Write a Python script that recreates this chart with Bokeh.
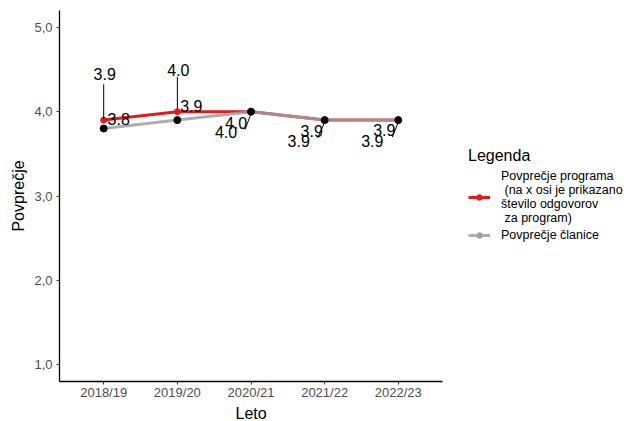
from bokeh.plotting import figure
from bokeh.models import Range1d, FixedTicker, Legend, LegendItem, Title
from bokeh.core.properties import value
from bokeh.embed import file_html
from bokeh.resources import INLINE

# ---- data ----
years = ["2018/19", "2019/20", "2020/21", "2021/22", "2022/23"]
program = [3.9, 4.0, 4.0, 3.9, 3.9]
members = [3.8, 3.9, 4.0, 3.9, 3.9]
y_ticks = [1, 2, 3, 4, 5]
y_tick_labels = ["1,0", "2,0", "3,0", "4,0", "5,0"]
label_program = "Povprečje programa\n (na x osi je prikazano\nštevilo odgovorov\n za program)"
label_members = "Povprečje članice"
legend_title = "Legenda"
x_title = "Leto"
y_title = "Povprečje"

# ---- layout constants ----
W, H = 627, 421
BL, BT, BR, BB = 59, 10, 0, 38
AX_W = 383                       # length of the drawn x axis in px
FRAME_W = W - BL - BR
FRAME_H = H - BT - BB
X0, XA1 = -0.6, len(years) - 0.4
X1 = X0 + (XA1 - X0) * FRAME_W / AX_W
Y0, Y1 = 0.8, 5.2
FONT = "Liberation Sans"

# label placement offsets in screen px relative to the point (x right, y down)
prog_lab_off = [(1, -46), (1, -42), (-15, 11), (-13, 11), (-14, 10)]
memb_lab_off = [(15, -10), (14, -14), (-25, 20), (-26, 21), (-26, 21)]
leaders = [("p", 0, (0, -1), (0, -36)), ("p", 1, (0, -3), (0, -35)),
           ("p", 2, (0, 2), (-6, 18)), ("p", 3, (0, 2), (-7, 18)),
           ("p", 4, (0, 2), (-6, 17))]

p = figure(width=W, height=H, output_backend="svg", toolbar_location=None,
           x_range=Range1d(X0, X1), y_range=Range1d(Y0, Y1),
           min_border_left=BL, min_border_top=BT, min_border_right=BR,
           min_border_bottom=BB)

xs = list(range(len(years)))

r_line = p.line(xs, program, line_color="#e41a1c", line_width=3)
r_pts = p.scatter(xs, program, color="#e41a1c", size=6)
g_line = p.line(xs, members, line_color="#a0a0a0", line_width=3, line_alpha=0.85)
g_pts = p.scatter(xs, members, color="#a0a0a0", size=6)
p.scatter(xs, members, color="black", size=7)

px_x = AX_W / (XA1 - X0)
px_y = FRAME_H / (Y1 - Y0)

def to_data(i, v, off):
    return i + off[0] / px_x, v - off[1] / px_y

lx0, ly0, lx1, ly1 = [], [], [], []
for s, i, a, b in leaders:
    v = program[i] if s == "p" else members[i]
    xa, ya = to_data(i, v, a)
    xb, yb = to_data(i, v, b)
    lx0.append(xa); ly0.append(ya); lx1.append(xb); ly1.append(yb)
p.segment(lx0, ly0, lx1, ly1, line_color="black", line_width=1)

tx, ty, tt = [], [], []
for i in xs:
    x, y = to_data(i, program[i], prog_lab_off[i])
    tx.append(x); ty.append(y); tt.append(f"{program[i]:.1f}")
    x, y = to_data(i, members[i], memb_lab_off[i])
    tx.append(x); ty.append(y); tt.append(f"{members[i]:.1f}")
p.text(tx, ty, text=tt, text_align="center", text_baseline="middle",
       text_font=value(FONT), text_font_size="16px", text_color="black")

p.xgrid.visible = False
p.ygrid.visible = False
p.outline_line_color = None
p.xaxis.ticker = FixedTicker(ticks=xs)
p.xaxis.major_label_overrides = {i: years[i] for i in xs}
p.xaxis.bounds = (X0, XA1)
p.yaxis.ticker = FixedTicker(ticks=y_ticks)
p.yaxis.major_label_overrides = {t: l for t, l in zip(y_ticks, y_tick_labels)}
for ax in (p.xaxis, p.yaxis):
    ax.axis_line_color = "black"
    ax.axis_line_width = 1.3
    ax.major_tick_line_color = "#333333"
    ax.major_tick_out = 3
    ax.major_tick_in = 0
    ax.minor_tick_line_color = None
    ax.major_label_text_font = FONT
    ax.major_label_text_font_size = "13px"
    ax.major_label_text_color = "#4d4d4d"
    ax.major_label_standoff = 4
    ax.axis_label_text_font = FONT
    ax.axis_label_text_font_size = "16px"
    ax.axis_label_text_font_style = "normal"
    ax.axis_label_text_color = "black"
p.xaxis.major_label_standoff = 0
p.yaxis.axis_label = y_title
p.yaxis.axis_label_standoff = 4

# x-axis title centred under the drawn axis (the frame extends under the legend)
LETO_W = 31
p.add_layout(Title(text=x_title, align="left", offset=AX_W / 2 - LETO_W / 2,
                   text_font=FONT, text_font_size="16px",
                   text_font_style="normal", text_color="black",
                   standoff=0), "below")

legend = Legend(items=[LegendItem(label=label_program, renderers=[r_line, r_pts]),
                       LegendItem(label=label_members, renderers=[g_line, g_pts])],
                location=(409, 139), title=legend_title,
                title_text_font=FONT, title_text_font_size="16px",
                title_text_font_style="normal", title_text_color="black",
                title_standoff=4,
                label_text_font=FONT, label_text_font_size="12.5px",
                label_text_color="black", label_text_line_height=0.9,
                glyph_width=22, glyph_height=14, label_standoff=11,
                spacing=3, padding=0, margin=0,
                border_line_color=None, background_fill_alpha=0)
p.add_layout(legend, "center")

open("out.html", "w").write(file_html(p, INLINE))
